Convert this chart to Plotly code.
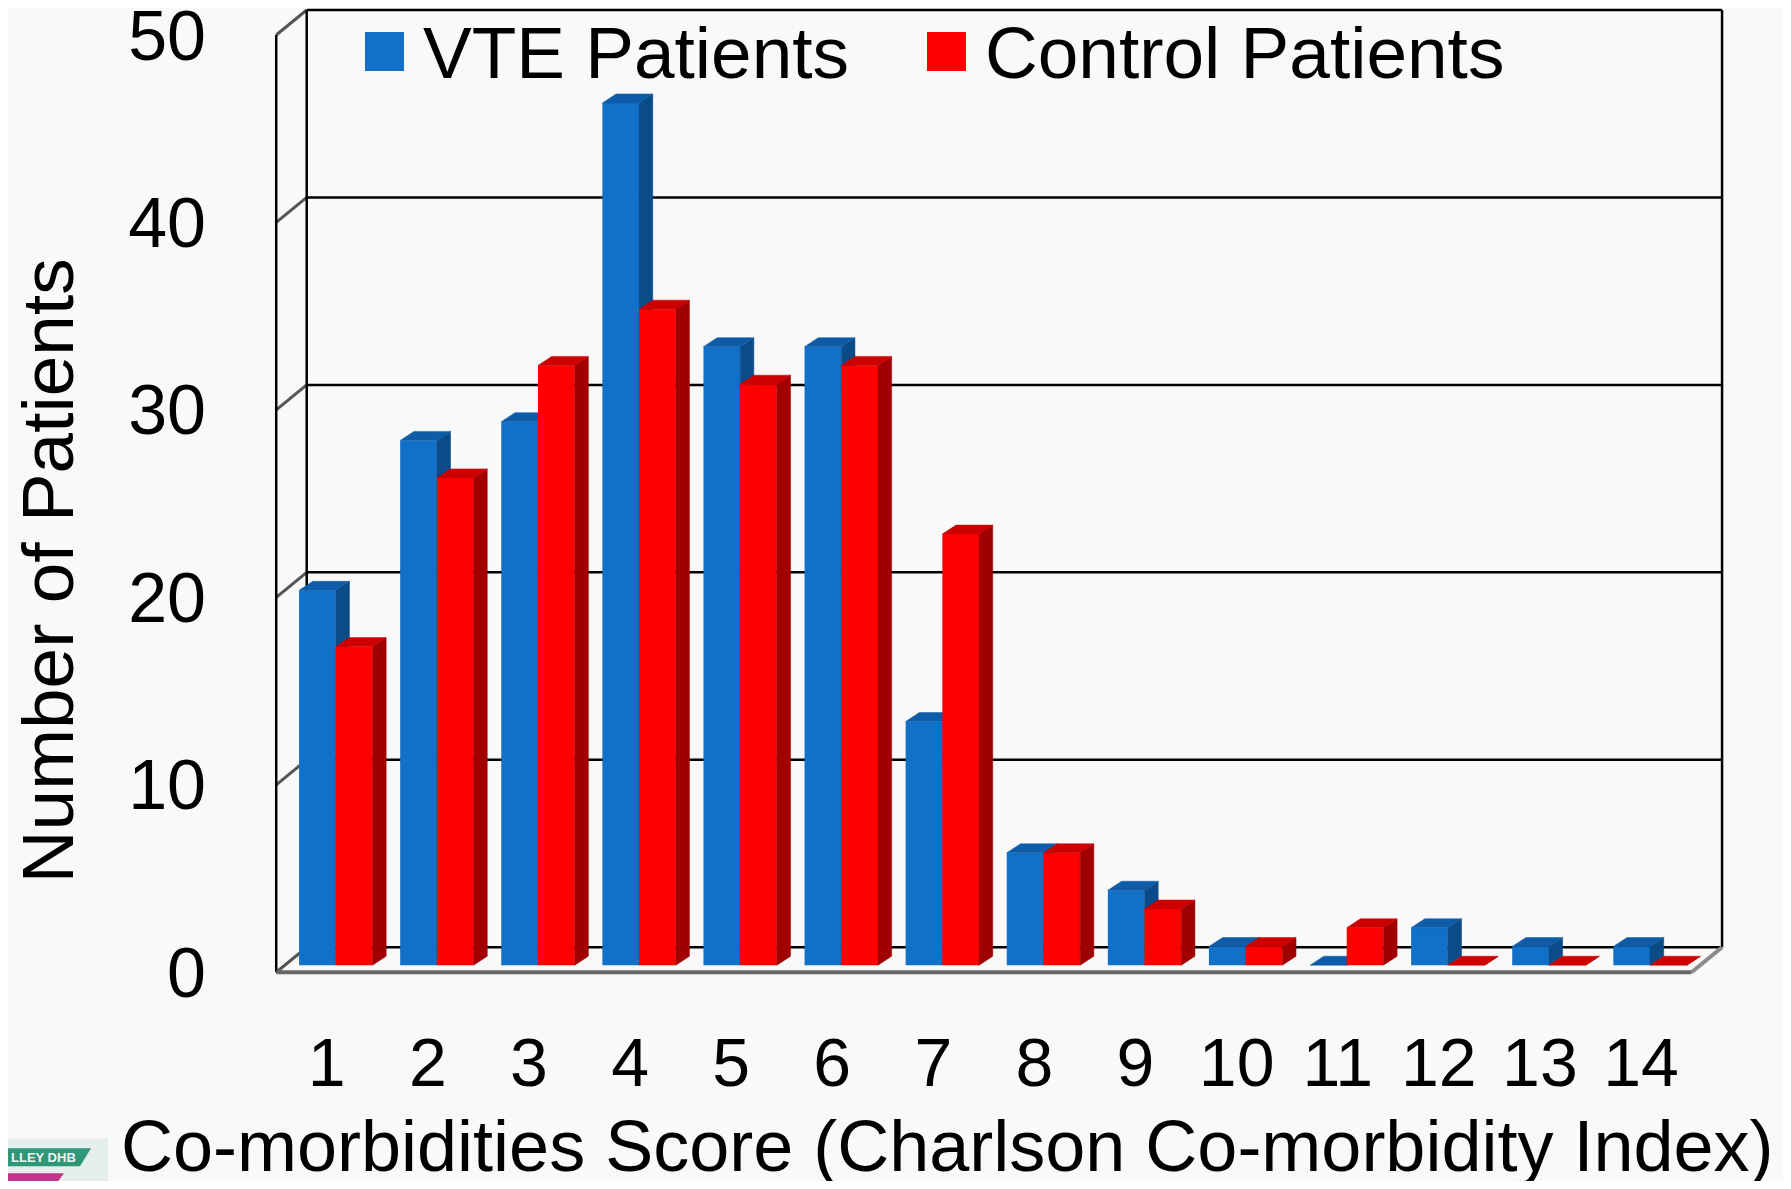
import plotly.graph_objects as go

# ---------------- data ----------------
categories = list(range(1, 15))
tick_labels = [str(c) for c in categories]
vte_patients = [20, 28, 29, 46, 33, 33, 13, 6, 4, 1, 0, 2, 1, 1]
control_patients = [17, 26, 32, 35, 31, 32, 23, 6, 3, 1, 2, 0, 0, 0]
y_ticks = [0, 10, 20, 30, 40, 50]
y_tick_labels = [str(v) for v in y_ticks]
series_names = ["VTE Patients", "Control Patients"]
x_title = "Co-morbidities Score (Charlson Co-morbidity Index)"
y_title = "Number of Patients"

# ---------------- geometry / style ----------------
W, H = 1791, 1189          # browser window
OFF = 8                    # default page body margin
XU = 101.1   # px per category
YU = 18.74   # px per patient
X0, X1 = 0.3, 14.9
Y0 = -1.0
L = 265.0                  # screen px
R = L + XU * (X1 - X0)
B = 965.0 + YU * (0 - Y0)
T = OFF + 0.0
Y1 = Y0 + (B - T) / YU

FONT = "Liberation Sans, Arial, sans-serif"
BLUE, BLUE_TOP, BLUE_SIDE = "#1170c8", "#0e5ca8", "#0a4b88"
RED, RED_TOP, RED_SIDE = "#ff0000", "#cc0000", "#a00000"
BG = "#f9f9f9"

BW = 0.363                     # bar width in category units
DX, DY = 13.7 / XU, 9.0 / YU   # bar depth offset
FX, FY = -9.0 / XU, -7.0 / YU  # front plane offset
BX, BY = 21.5 / XU, 18.0 / YU  # back plane offset
WALL0, WALL1 = 0.5, 14.5


def px2paper_x(px):
    return (px - L) / (R - L)


def px2paper_y(py):
    return (B - py) / (B - T)


def faces(values, offset):
    sx, sy, tx, ty = [], [], [], []
    for k, v in zip(categories, values):
        xl = k + offset
        xr = xl + BW
        sx += [xr, xr + DX, xr + DX, xr, xr, None]
        sy += [0, DY, v + DY, v, 0, None]
        tx += [xl, xl + DX, xr + DX, xr, xl, None]
        ty += [v, v + DY, v + DY, v, v, None]
    return sx, sy, tx, ty


fig = go.Figure()

series = [
    (vte_patients, -BW, BLUE, BLUE_TOP, BLUE_SIDE, 0, 1),
    (control_patients, 0.0, RED, RED_TOP, RED_SIDE, 2, 3),
]
for (vals, off, cf, ct, cs, zbar, zface), name in zip(series, series_names):
    sx, sy, tx, ty = faces(vals, off)
    fig.add_trace(go.Bar(
        x=categories, y=vals, name=name, offset=off, width=BW,
        marker=dict(color=cf, line=dict(width=0)),
        showlegend=False, zorder=zbar,
    ))
    fig.add_trace(go.Scatter(
        x=sx, y=sy, mode="lines", fill="toself", fillcolor=cs,
        line=dict(color=cs, width=0.5), hoverinfo="skip",
        showlegend=False, zorder=zface if off == 0 else 0,
    ))
    fig.add_trace(go.Scatter(
        x=tx, y=ty, mode="lines", fill="toself", fillcolor=ct,
        line=dict(color=ct, width=0.5), hoverinfo="skip",
        showlegend=False, zorder=zface if off == 0 else 0,
    ))

shapes = []
# back wall gridlines + left wall diagonals
for v in y_ticks:
    shapes.append(dict(type="line", xref="x", yref="y", layer="below",
                       x0=WALL0 + BX, x1=WALL1 + BX, y0=v + BY, y1=v + BY,
                       line=dict(color="black", width=2.5)))
    shapes.append(dict(type="line", xref="x", yref="y", layer="below",
                       x0=WALL0 + FX, x1=WALL0 + BX, y0=v + FY, y1=v + BY,
                       line=dict(color="#555555", width=3)))
ymax = y_ticks[-1]
for xx in (WALL0 + BX, WALL1 + BX):
    shapes.append(dict(type="line", xref="x", yref="y", layer="below",
                       x0=xx, x1=xx, y0=BY, y1=ymax + BY,
                       line=dict(color="black", width=2.5)))
shapes.append(dict(type="line", xref="x", yref="y", layer="below",
                   x0=WALL0 + FX, x1=WALL0 + FX, y0=FY, y1=ymax + FY,
                   line=dict(color="black", width=2.5)))
# floor
shapes.append(dict(type="line", xref="x", yref="y", layer="below",
                   x0=WALL0 + FX, x1=WALL1 + FX, y0=FY, y1=FY,
                   line=dict(color="#686868", width=4)))
shapes.append(dict(type="line", xref="x", yref="y", layer="below",
                   x0=WALL1 + FX, x1=WALL1 + BX, y0=FY, y1=BY,
                   line=dict(color="#8a8a8a", width=4)))

# legend squares
for (px0, col) in ((365, BLUE), (927, RED)):
    shapes.append(dict(type="rect", xref="paper", yref="paper",
                       x0=px2paper_x(px0), x1=px2paper_x(px0 + 39),
                       y0=px2paper_y(71), y1=px2paper_y(32),
                       fillcolor=col, line=dict(width=0)))

# small logo fragment bottom-left
shapes.append(dict(type="rect", xref="paper", yref="paper",
                   x0=px2paper_x(OFF), x1=px2paper_x(108),
                   y0=px2paper_y(H - OFF), y1=px2paper_y(1138),
                   fillcolor="#e6eded", line=dict(width=0)))
shapes.append(dict(type="path", xref="paper", yref="paper",
                   path="M {} {} L {} {} L {} {} L {} {} Z".format(
                       px2paper_x(OFF), px2paper_y(1148),
                       px2paper_x(OFF), px2paper_y(1166),
                       px2paper_x(80), px2paper_y(1166),
                       px2paper_x(91), px2paper_y(1148)),
                   fillcolor="#2f9677", line=dict(width=0)))
shapes.append(dict(type="path", xref="paper", yref="paper",
                   path="M {} {} L {} {} L {} {} L {} {} Z".format(
                       px2paper_x(OFF), px2paper_y(1173),
                       px2paper_x(OFF), px2paper_y(1181),
                       px2paper_x(58), px2paper_y(1181),
                       px2paper_x(64), px2paper_y(1173)),
                   fillcolor="#c4338a", line=dict(width=0)))

annotations = [
    dict(text=x_title, xref="paper", yref="paper", x=px2paper_x(948), y=px2paper_y(1146),
         xanchor="center", yanchor="middle", showarrow=False,
         font=dict(family=FONT, size=72, color="black")),
    dict(text=y_title, xref="paper", yref="paper", x=px2paper_x(47), y=px2paper_y(571),
         xanchor="center", yanchor="middle", showarrow=False, textangle=-90,
         font=dict(family=FONT, size=73, color="black")),
    dict(text=series_names[0], xref="paper", yref="paper", x=px2paper_x(421), y=px2paper_y(52),
         xanchor="left", yanchor="middle", showarrow=False,
         font=dict(family=FONT, size=73, color="black")),
    dict(text=series_names[1], xref="paper", yref="paper", x=px2paper_x(983), y=px2paper_y(52),
         xanchor="left", yanchor="middle", showarrow=False,
         font=dict(family=FONT, size=73, color="black")),
    dict(text="<b>LLEY DHB</b>", xref="paper", yref="paper", x=px2paper_x(OFF + 1), y=px2paper_y(1157),
         xanchor="left", yanchor="middle", showarrow=False,
         font=dict(family=FONT, size=13, color="#eef6f2")),
]

fig_w = W - 2 * OFF
fig_h = H - 2 * OFF
fig.update_layout(
    width=fig_w, height=fig_h,
    margin=dict(l=L - OFF, r=fig_w - (R - OFF), t=T - OFF, b=fig_h - (B - OFF),
                pad=0, autoexpand=False),
    paper_bgcolor=BG, plot_bgcolor=BG,
    barmode="overlay",
    showlegend=False,
    shapes=shapes,
    annotations=annotations,
    xaxis=dict(range=[X0, X1], tickmode="array", tickvals=categories, ticktext=tick_labels,
               showgrid=False, zeroline=False, showline=False, ticks="",
               tickfont=dict(family=FONT, size=68, color="black"),
               ticklabelstandoff=33, ticklabelshift=-9, ticklabeloverflow="allow",
               automargin=False, fixedrange=True),
    yaxis=dict(range=[Y0, Y1], tickmode="array", tickvals=y_ticks, ticktext=y_tick_labels,
               showgrid=False, zeroline=False, showline=False, ticks="",
               tickfont=dict(family=FONT, size=70, color="black"),
               ticklabelstandoff=58, ticklabelshift=7, ticklabeloverflow="allow",
               automargin=False, fixedrange=True),
)

fig.write_html("out.html")
